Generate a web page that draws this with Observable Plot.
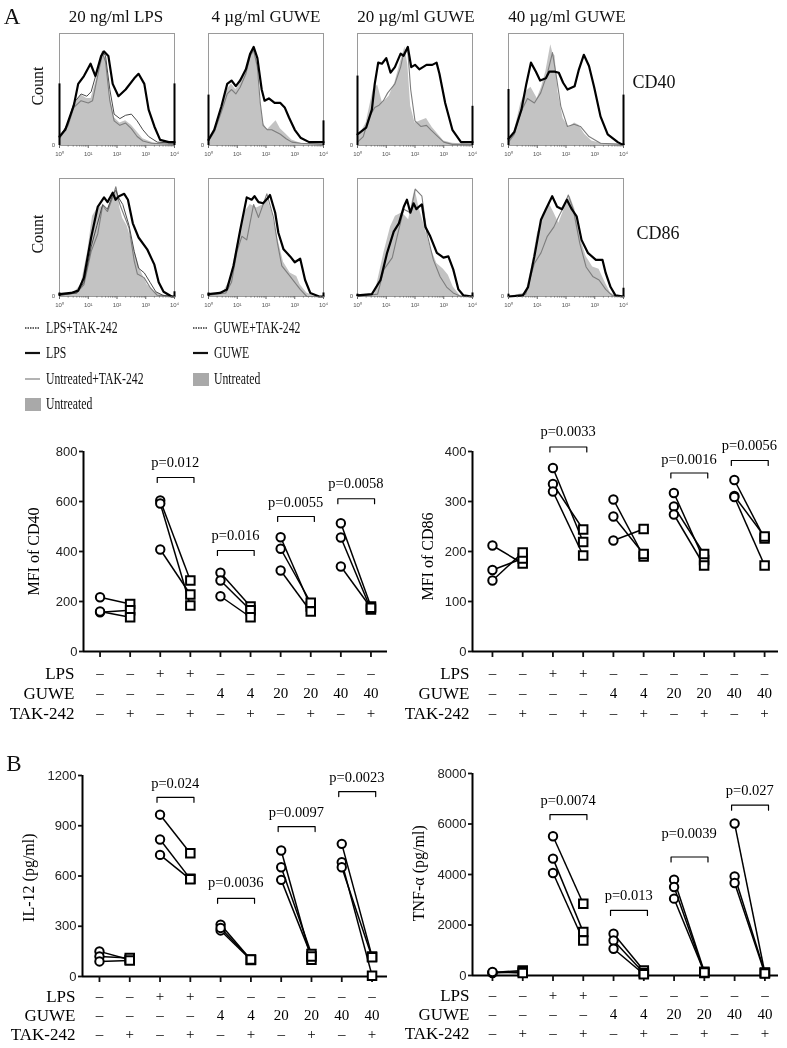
<!DOCTYPE html>
<html><head><meta charset="utf-8">
<script src="https://cdn.jsdelivr.net/npm/d3@7"></script>
<script src="https://cdn.jsdelivr.net/npm/@observablehq/plot@0.6"></script>
<style>
body{margin:0;background:#fff;}
#fig{position:relative;width:787px;height:1048px;background:#fff;font-family:"Liberation Serif","Times New Roman",serif;color:#111;overflow:hidden;filter:grayscale(1)}
.abs{position:absolute;white-space:nowrap;line-height:1}
.ctr{transform:translate(-50%,-50%)}
.rot{transform:translate(-50%,-50%) rotate(-90deg)}
.leg{position:absolute;display:flex;align-items:center;height:20px}
.leg span{display:inline-block;font-size:17px;transform:scaleX(0.69);transform-origin:left center;margin-left:5px}
svg{overflow:visible}
</style></head><body><div id="fig"></div>
<script>
// ---------------- DATA ----------------
// Column headings of the histogram panels
const histTitles = ["20 ng/ml LPS", "4 µg/ml GUWE", "20 µg/ml GUWE", "40 µg/ml GUWE"];
const histMarkers = ["CD40", "CD86"];
// Histogram curves: [log10 fluorescence, % of max count]
// CD40 / LPS
const cd40LpsBlack = [[0,8],[0.2,14],[0.5,36],[0.65,55],[0.85,62],[1.08,73],[1.25,62],[1.45,80],[1.55,84],[1.7,80],[1.85,55],[2.05,44],[2.3,50],[2.6,60],[2.75,64],[2.95,55],[3.1,32],[3.3,17],[3.5,5],[3.8,3],[4,3]];
const cd40LpsFill = [[0,6],[0.3,20],[0.5,36],[0.75,45],[0.95,42],[1.1,42],[1.3,60],[1.5,85],[1.6,78],[1.75,45],[1.9,25],[2.1,20],[2.3,22],[2.5,18],[2.7,12],[2.9,6],[3.2,3],[3.6,1],[4,1]];
const cd40LpsGray = [[0,6],[0.3,18],[0.5,34],[0.75,40],[1.0,38],[1.15,40],[1.35,65],[1.5,82],[1.6,75],[1.75,40],[1.9,22],[2.1,18],[2.3,20],[2.5,15],[2.7,8],[2.9,4],[3.2,2],[4,1]];
const cd40LpsDark = [[0,7],[0.3,20],[0.5,38],[0.75,46],[0.95,44],[1.1,48],[1.3,66],[1.5,84],[1.6,80],[1.75,50],[1.9,28],[2.1,24],[2.3,27],[2.5,28],[2.7,22],[2.9,14],[3.1,8],[3.4,3],[4,2]];
// CD40 / 4 GUWE
const cd40G4Black = [[0,5],[0.2,14],[0.45,35],[0.65,55],[0.8,58],[0.95,53],[1.1,58],[1.3,68],[1.45,82],[1.57,88],[1.7,78],[1.85,50],[1.95,40],[2.1,42],[2.3,38],[2.5,38],[2.65,34],[2.8,25],[3.0,14],[3.2,7],[3.5,3],[3.9,3],[4,3]];
const cd40G4Fill = [[0,4],[0.2,12],[0.45,32],[0.65,50],[0.8,55],[0.95,50],[1.1,55],[1.3,66],[1.45,80],[1.57,86],[1.7,72],[1.8,40],[1.9,20],[2.05,14],[2.2,18],[2.35,22],[2.5,15],[2.7,10],[2.9,5],[3.2,2],[4,1]];
const cd40G4Gray = [[0,4],[0.2,12],[0.45,30],[0.65,46],[0.8,50],[0.95,46],[1.1,52],[1.3,64],[1.45,80],[1.57,85],[1.7,70],[1.8,38],[1.9,18],[2.05,14],[2.2,14],[2.35,12],[2.5,10],[2.7,6],[2.9,3],[3.2,2],[4,1]];
// CD40 / 20 GUWE
const cd40G20Black = [[0,10],[0.3,16],[0.5,32],[0.6,55],[0.72,74],[0.85,73],[1.0,78],[1.15,65],[1.3,70],[1.5,82],[1.6,80],[1.75,88],[1.87,70],[2.0,72],[2.15,68],[2.4,72],[2.6,72],[2.75,74],[2.85,64],[3.05,38],[3.3,14],[3.6,3],[3.9,3],[4,3]];
const cd40G20Fill = [[0,6],[0.3,20],[0.55,50],[0.7,54],[0.87,38],[1.1,44],[1.3,56],[1.5,75],[1.65,88],[1.75,72],[1.85,35],[2.0,20],[2.2,22],[2.4,24],[2.6,16],[2.8,10],[3.0,4],[3.3,2],[4,1]];
const cd40G20Gray = [[0,3],[0.2,8],[0.4,25],[0.6,34],[0.75,36],[0.9,40],[1.05,47],[1.3,55],[1.5,70],[1.6,82],[1.74,88],[1.85,50],[2.0,22],[2.2,17],[2.4,18],[2.55,14],[2.75,9],[3.0,3],[3.3,1],[4,1]];
// CD40 / 40 GUWE
const cd40G40Black = [[0,6],[0.2,12],[0.45,32],[0.62,55],[0.78,74],[0.95,66],[1.1,58],[1.3,60],[1.42,66],[1.6,66],[1.75,65],[1.9,56],[2.05,50],[2.3,53],[2.45,68],[2.62,81],[2.8,71],[2.98,52],[3.2,26],[3.45,10],[3.8,3],[3.95,1],[4,1]];
const cd40G40Fill = [[0,4],[0.2,12],[0.43,38],[0.6,48],[0.78,52],[1.0,42],[1.15,52],[1.3,66],[1.47,90],[1.55,82],[1.62,80],[1.72,48],[1.9,24],[2.1,16],[2.3,20],[2.45,18],[2.65,10],[2.9,4],[3.2,2],[4,1]];
const cd40G40Gray = [[0,3],[0.2,10],[0.43,30],[0.66,42],[0.9,38],[1.12,47],[1.36,65],[1.53,83],[1.65,64],[1.82,35],[2.05,17],[2.28,19],[2.5,17],[2.8,8],[3.2,2],[4,1]];
// CD86 / LPS
const cd86LpsBlack = [[0,2],[0.4,3],[0.65,5],[0.85,16],[1.1,50],[1.33,76],[1.55,84],[1.67,80],[1.85,88],[1.95,82],[2.07,85],[2.25,87],[2.38,82],[2.55,62],[2.75,50],[3.05,40],[3.3,27],[3.45,12],[3.62,4],[3.9,0],[4,0]];
const cd86LpsFill = [[0,1],[0.5,3],[0.75,10],[0.98,38],[1.15,68],[1.3,74],[1.45,76],[1.65,73],[1.8,82],[1.9,86],[2.0,92],[2.1,75],[2.2,66],[2.35,60],[2.6,40],[2.82,22],[3.05,10],[3.3,4],[3.6,1],[4,0]];
const cd86LpsGray = [[0,1],[0.6,3],[0.85,10],[1.1,38],[1.33,53],[1.5,77],[1.67,72],[1.85,84],[1.96,93],[2.05,82],[2.13,76],[2.42,58],[2.6,30],[2.71,19],[2.94,16],[3.17,7],[3.4,1],[4,0]];
const cd86LpsDark = [[0,1],[0.6,3],[0.85,12],[1.1,42],[1.3,60],[1.5,78],[1.67,74],[1.85,86],[1.96,90],[2.05,84],[2.2,78],[2.42,60],[2.6,38],[2.75,24],[2.95,20],[3.15,12],[3.35,4],[3.6,1],[4,0]];
// CD86 / 4 GUWE
const cd86G4Black = [[0,2],[0.4,3],[0.64,6],[0.87,26],[1.1,56],[1.33,84],[1.5,82],[1.6,85],[1.74,80],[1.9,79],[2.05,83],[2.14,86],[2.32,71],[2.43,54],[2.61,40],[2.84,34],[3.0,29],[3.19,32],[3.36,14],[3.54,3],[3.85,0],[4,0]];
const cd86G4Fill = [[0,1],[0.5,3],[0.75,14],[0.99,43],[1.22,70],[1.45,78],[1.68,75],[1.91,78],[2.03,84],[2.2,72],[2.38,52],[2.61,29],[2.84,20],[3.07,17],[3.19,10],[3.42,3],[3.7,0],[4,0]];
const cd86G4Gray = [[0,1],[0.6,3],[0.8,12],[0.99,38],[1.16,51],[1.33,48],[1.57,78],[1.74,67],[1.9,78],[2.03,87],[2.26,67],[2.4,45],[2.55,26],[2.84,17],[3.0,12],[3.19,6],[3.42,0],[4,0]];
// CD86 / 20 GUWE
const cd86G20Black = [[0,1],[0.5,2],[0.8,14],[1.03,37],[1.26,55],[1.44,62],[1.61,76],[1.72,82],[1.84,71],[1.95,79],[2.05,74],[2.13,76],[2.24,78],[2.36,59],[2.53,51],[2.76,37],[2.99,33],[3.16,34],[3.33,23],[3.51,6],[3.68,1],[4,0]];
const cd86G20Fill = [[0,0],[0.6,2],[0.92,37],[1.15,59],[1.32,68],[1.55,71],[1.78,65],[1.9,80],[2.0,91],[2.13,76],[2.3,62],[2.53,42],[2.76,28],[2.99,23],[3.16,18],[3.33,8],[3.56,1],[4,0]];
const cd86G20Gray = [[0,0],[0.7,2],[0.92,23],[1.21,33],[1.38,51],[1.61,74],[1.84,71],[2.01,91],[2.24,85],[2.41,54],[2.64,31],[2.87,17],[3.1,8],[3.33,3],[3.6,0],[4,0]];
// CD86 / 40 GUWE
const cd86G40Black = [[0,0],[0.5,1],[0.68,8],[0.9,34],[1.13,65],[1.3,74],[1.52,85],[1.69,76],[1.86,74],[2.03,82],[2.2,74],[2.37,68],[2.54,48],[2.76,37],[3.04,31],[3.27,31],[3.38,20],[3.55,8],[3.72,1],[4,0]];
const cd86G40Fill = [[0,0],[0.6,3],[0.79,23],[1.01,54],[1.24,68],[1.41,79],[1.58,71],[1.75,62],[1.97,76],[2.14,85],[2.31,74],[2.48,51],[2.7,34],[2.93,25],[3.15,23],[3.38,11],[3.55,3],[3.8,0],[4,0]];
const cd86G40Gray = [[0,0],[0.6,2],[0.9,28],[1.13,37],[1.35,51],[1.58,59],[1.75,68],[1.92,76],[2.08,86],[2.25,74],[2.48,45],[2.7,25],[2.93,17],[3.15,14],[3.38,6],[3.6,1],[4,0]];
// pile-up at the axis ends (% of max), left / right, per panel (CD40 row then CD86 row)
const spikeLeft = [55, 45, 62, 50, 3, 3, 2, 2];
const spikeRight = [55, 22, 35, 45, 4, 3, 3, 7];

// Legend
const legendLeft = ["LPS+TAK-242", "LPS", "Untreated+TAK-242", "Untreated"];
const legendRight = ["GUWE+TAK-242", "GUWE", "Untreated"];

// Treatment table (10 conditions)
const lpsRow = ["–","–","+","+","–","–","–","–","–","–"];
const guweRow = ["–","–","–","–","4","4","20","20","40","40"];
const takRow = ["–","+","–","+","–","+","–","+","–","+"];
const rowLabels = ["LPS", "GUWE", "TAK-242"];

// Paired values: 5 pairs (without / with TAK-242), 3 donors each
const cd40Without = [[217,157,160],[604,592,408],[315,284,221],[457,411,324],[513,456,340]];
const cd40With    = [[190,165,137],[284,184,228],[180,165,137],[180,195,160],[180,168,175]];
const cd86Without = [[212,163,142],[367,335,320],[304,270,222],[317,290,274],[343,311,309]];
const cd86With    = [[176,186,198],[219,244,192],[190,195,245],[183,195,172],[226,230,172]];
const il12Without = [[150,120,90],[966,818,726],[310,275,290],[752,652,577],[792,682,652]];
const il12With    = [[100,110,95],[736,583,580],[100,98,102],[100,135,120],[120,5,115]];
const tnfWithout  = [[120,100,140],[5514,4630,4058],[1654,1388,1059],[3796,3503,3043],[6018,3927,3662]];
const tnfWith     = [[200,150,100],[2844,1718,1388],[200,100,50],[150,100,120],[100,120,80]];

// Significance annotations: pair index (1-based), label, label value, bracket value
const cd40PPair = [2,3,4,5], cd40PText = ["p=0.012","p=0.016","p=0.0055","p=0.0058"], cd40PLabelY = [756,464,597,673], cd40PBracketY = [696,404,540,611];
const cd86PPair = [2,4,5], cd86PText = ["p=0.0033","p=0.0016","p=0.0056"], cd86PLabelY = [441,385,412], cd86PBracketY = [409,357,382];
const il12PPair = [2,3,4,5], il12PText = ["p=0.024","p=0.0036","p=0.0097","p=0.0023"], il12PLabelY = [1154,560,981,1190], il12PBracketY = [1070,467,895,1104];
const tnfPPair = [2,3,4,5], tnfPText = ["p=0.0074","p=0.013","p=0.0039","p=0.027"], tnfPLabelY = [6942,3174,5621,7339], tnfPBracketY = [6375,2579,4693,6744];

// Y axis ticks
const cd40Ticks = [0,200,400,600,800];
const cd86Ticks = [0,100,200,300,400];
const il12Ticks = [0,300,600,900,1200];
const tnfTicks = [0,2000,4000,6000,8000];

// ---------------- RENDER ----------------
const fig = document.getElementById("fig");
function place(node, left, top) {
  const w = document.createElement("div");
  w.className = "abs"; w.style.left = left + "px"; w.style.top = top + "px";
  w.appendChild(node); fig.appendChild(w); return w;
}
function label(text, x, y, size, cls) {
  const d = document.createElement("div");
  d.className = "abs " + (cls || "ctr");
  d.style.left = x + "px"; d.style.top = y + "px"; d.style.fontSize = size + "px";
  d.textContent = text; fig.appendChild(d); return d;
}

// Panel letters, titles, side labels
label("A", 12, 16, 23);
label("B", 14, 763, 23);
const titleX = [116, 266, 416, 567];
histTitles.forEach((t, i) => label(t, titleX[i], 16, 17));
label("Count", 38, 86, 16, "rot");
label("Count", 38, 234, 16, "rot");
label(histMarkers[0], 654, 82, 18);
label(histMarkers[1], 658, 233, 18);

// Histograms
const sup = ["⁰","¹","²","³","⁴"];
const majors = [0,1,2,3,4];
const minors = [];
for (let d = 0; d < 4; d++) for (let k = 2; k < 10; k++) minors.push(d + Math.log10(k));
const histSets = [
  [cd40LpsFill, cd40LpsGray, cd40LpsDark, cd40LpsBlack],
  [cd40G4Fill, cd40G4Gray, null, cd40G4Black],
  [cd40G20Fill, cd40G20Gray, null, cd40G20Black],
  [cd40G40Fill, cd40G40Gray, null, cd40G40Black],
  [cd86LpsFill, cd86LpsGray, cd86LpsDark, cd86LpsBlack],
  [cd86G4Fill, cd86G4Gray, null, cd86G4Black],
  [cd86G20Fill, cd86G20Gray, null, cd86G20Black],
  [cd86G40Fill, cd86G40Gray, null, cd86G40Black]
];
const boxLeft = [59, 208, 357, 508];
const boxTop = [33, 178], boxH = [112, 118], boxW = 115;
const X = d => d[0], Y = d => d[1];
histSets.forEach((set, i) => {
  const [fill, gray, dark, black] = set;
  const row = i < 4 ? 0 : 1, col = i % 4;
  const marks = [
    Plot.frame({stroke: "#9a9a9a", strokeWidth: 1}),
    Plot.areaY(fill, {x: X, y: Y, fill: "#c3c3c3"}),
    Plot.line(gray, {x: X, y: Y, stroke: "#7d7d7d", strokeWidth: 1.1})
  ];
  if (dark) marks.push(Plot.line(dark, {x: X, y: Y, stroke: "#4a4a4a", strokeWidth: 1}));
  marks.push(Plot.line(black, {x: X, y: Y, stroke: "#000", strokeWidth: 2.2}));
  marks.push(Plot.ruleX([[0, spikeLeft[i]], [4, spikeRight[i]]], {x: X, y1: 0, y2: Y, stroke: "#000", strokeWidth: 2}));
  marks.push(Plot.axisX({ticks: majors, tickFormat: d => "10" + sup[d], tickSize: 3, tickPadding: 3, fontSize: 6, fill: "#555", stroke: "#666", label: null}));
  marks.push(Plot.axisX({ticks: minors, tickFormat: () => "", tickSize: 1.5, stroke: "#777", label: null}));
  marks.push(Plot.text(["0"], {x: 0, y: 0, dx: -6, fontSize: 6, fill: "#555"}));
  const p = Plot.plot({
    width: 12 + boxW + 3, height: 2 + boxH[row] + 14,
    marginLeft: 12, marginRight: 3, marginTop: 2, marginBottom: 14,
    x: {domain: [0, 4]}, y: {domain: [0, 100], axis: null},
    style: {background: "transparent", fontFamily: "Liberation Sans, sans-serif", overflow: "visible"},
    marks
  });
  place(p, boxLeft[col] - 12, boxTop[row] - 2);
});

// Legend
function legendItem(kind) {
  const ns = "http://www.w3.org/2000/svg";
  const s = document.createElementNS(ns, "svg");
  s.setAttribute("width", 16); s.setAttribute("height", 14);
  let el;
  if (kind === "rect") {
    el = document.createElementNS(ns, "rect");
    el.setAttribute("x", 0); el.setAttribute("y", 1); el.setAttribute("width", 16); el.setAttribute("height", 13);
    el.setAttribute("fill", "#a9a9a9");
  } else {
    el = document.createElementNS(ns, "line");
    el.setAttribute("x1", 0); el.setAttribute("x2", 15); el.setAttribute("y1", 7); el.setAttribute("y2", 7);
    if (kind === "dot") { el.setAttribute("stroke", "#333"); el.setAttribute("stroke-width", 1.3); el.setAttribute("stroke-dasharray", "1.5,1"); }
    if (kind === "thick") { el.setAttribute("stroke", "#111"); el.setAttribute("stroke-width", 2.2); }
    if (kind === "thin") { el.setAttribute("stroke", "#8a8a8a"); el.setAttribute("stroke-width", 1.3); }
  }
  s.appendChild(el); return s;
}
function legendRow(text, kind, x, y) {
  const d = document.createElement("div");
  d.className = "leg"; d.style.left = x + "px"; d.style.top = (y - 10) + "px";
  d.appendChild(legendItem(kind));
  const sp = document.createElement("span"); sp.textContent = text; d.appendChild(sp);
  fig.appendChild(d);
}
const legKindsL = ["dot", "thick", "thin", "rect"];
const legYL = [328, 353, 379, 404];
legendLeft.forEach((t, i) => legendRow(t, legKindsL[i], 25, legYL[i]));
const legKindsR = ["dot", "thick", "rect"];
const legYR = [328, 353, 379];
legendRight.forEach((t, i) => legendRow(t, legKindsR[i], 193, legYR[i]));

// Paired dot plots
function pairPlot(cfg) {
  const [x0, x1] = cfg.xDomain;
  const yMax = cfg.ticks[cfg.ticks.length - 1];
  const unitPerPx = yMax / cfg.plotH;
  const links = [], circles = [], squares = [];
  cfg.without.forEach((grp, g) => grp.forEach((v, i) => {
    const w = cfg.with[g][i];
    links.push({x1: 2 * g + 1, y1: v, x2: 2 * g + 2, y2: w});
    circles.push({x: 2 * g + 1, y: v});
    squares.push({x: 2 * g + 2, y: w});
  }));
  const brackets = [], pLabels = [];
  cfg.pPair.forEach((pair, k) => {
    const a = 2 * pair - 1 - 0.1, b = 2 * pair + 0.12, yb = cfg.pBr[k], tick = 5 * unitPerPx;
    brackets.push({x: a, y: yb - tick, z: k}, {x: a, y: yb, z: k}, {x: b, y: yb, z: k}, {x: b, y: yb - tick, z: k});
    pLabels.push({x: 2 * pair - 0.5, y: cfg.pLab[k], t: cfg.pText[k]});
  });
  const cats = d3.range(1, 11);
  const serif = "Liberation Serif, Times New Roman, serif";
  const rows = [lpsRow, guweRow, takRow];
  const marks = [
    Plot.ruleY([0], {stroke: "#000", strokeWidth: 2}),
    Plot.ruleX([x0], {stroke: "#000", strokeWidth: 2}),
    Plot.axisY({ticks: cfg.ticks, tickFormat: d => String(d), tickSize: 4, tickPadding: 2, fontSize: 13, fontFamily: "Liberation Sans, Arial, sans-serif", fill: "#222", strokeWidth: 1.8, label: null}),
    Plot.axisX({ticks: cats, tickSize: 6, tickFormat: () => "", strokeWidth: 1.8, label: null}),
    Plot.link(links, {x1: "x1", y1: "y1", x2: "x2", y2: "y2", stroke: "#000", strokeWidth: 1.5}),
    Plot.dot(circles, {x: "x", y: "y", symbol: "circle", r: 4.2, stroke: "#000", strokeWidth: 2, fill: "#fff"}),
    Plot.dot(squares, {x: "x", y: "y", symbol: "square", r: 4.8, stroke: "#000", strokeWidth: 2, fill: "#fff"}),
    Plot.line(brackets, {x: "x", y: "y", z: "z", stroke: "#000", strokeWidth: 1.2}),
    Plot.text(pLabels, {x: "x", y: "y", text: "t", fontSize: 14.5, fontFamily: serif, fill: "#000"}),
    ...rows.map((row, r) => Plot.text(row, {x: (d, i) => i + 1, y: 0, text: d => d, dy: cfg.rowDy[r], fontSize: 15, fontFamily: serif, fill: "#000"})),
    ...rowLabels.map((t, r) => Plot.text([t], {x: x0, y: 0, dy: cfg.rowDy[r], dx: cfg.rowDx, textAnchor: "end", fontSize: 17, fontFamily: serif, fill: "#000"})),
    Plot.text([cfg.label], {x: x0, y: cfg.labelY, dx: cfg.labelDx, rotate: -90, fontSize: 16, fontFamily: serif, fill: "#000"})
  ];
  const p = Plot.plot({
    width: cfg.width, height: cfg.marginTop + cfg.plotH + cfg.marginBottom,
    marginLeft: cfg.marginLeft, marginRight: cfg.marginRight, marginTop: cfg.marginTop, marginBottom: cfg.marginBottom,
    x: {domain: cfg.xDomain}, y: {domain: [0, yMax]},
    style: {background: "transparent", overflow: "visible"},
    marks
  });
  place(p, cfg.left, cfg.top);
}

pairPlot({left: 0, top: 420, width: 395, marginLeft: 83, marginRight: 8, marginTop: 31, marginBottom: 72, plotH: 200,
  xDomain: [0.45, 10.55], ticks: cd40Ticks, without: cd40Without, with: cd40With,
  pPair: cd40PPair, pText: cd40PText, pLab: cd40PLabelY, pBr: cd40PBracketY,
  rowDy: [22, 42, 62], rowDx: -9, label: "MFI of CD40", labelY: 400, labelDx: -50});
pairPlot({left: 390, top: 420, width: 397, marginLeft: 82, marginRight: 9, marginTop: 31, marginBottom: 72, plotH: 200,
  xDomain: [0.34, 10.46], ticks: cd86Ticks, without: cd86Without, with: cd86With,
  pPair: cd86PPair, pText: cd86PText, pLab: cd86PLabelY, pBr: cd86PBracketY,
  rowDy: [22, 42, 62], rowDx: -3, label: "MFI of CD86", labelY: 190, labelDx: -45});
pairPlot({left: 0, top: 740, width: 395, marginLeft: 82, marginRight: 8, marginTop: 35, marginBottom: 70, plotH: 201,
  xDomain: [0.44, 10.51], ticks: il12Ticks, without: il12Without, with: il12With,
  pPair: il12PPair, pText: il12PText, pLab: il12PLabelY, pBr: il12PBracketY,
  rowDy: [20, 39, 58], rowDx: -7, label: "IL-12 (pg/ml)", labelY: 590, labelDx: -54});
pairPlot({left: 390, top: 740, width: 397, marginLeft: 82, marginRight: 9, marginTop: 33, marginBottom: 70, plotH: 202,
  xDomain: [0.34, 10.45], ticks: tnfTicks, without: tnfWithout, with: tnfWith,
  pPair: tnfPPair, pText: tnfPText, pLab: tnfPLabelY, pBr: tnfPBracketY,
  rowDy: [20, 39, 58], rowDx: -3, label: "TNF-α (pg/ml)", labelY: 4050, labelDx: -54});
</script></body></html>
